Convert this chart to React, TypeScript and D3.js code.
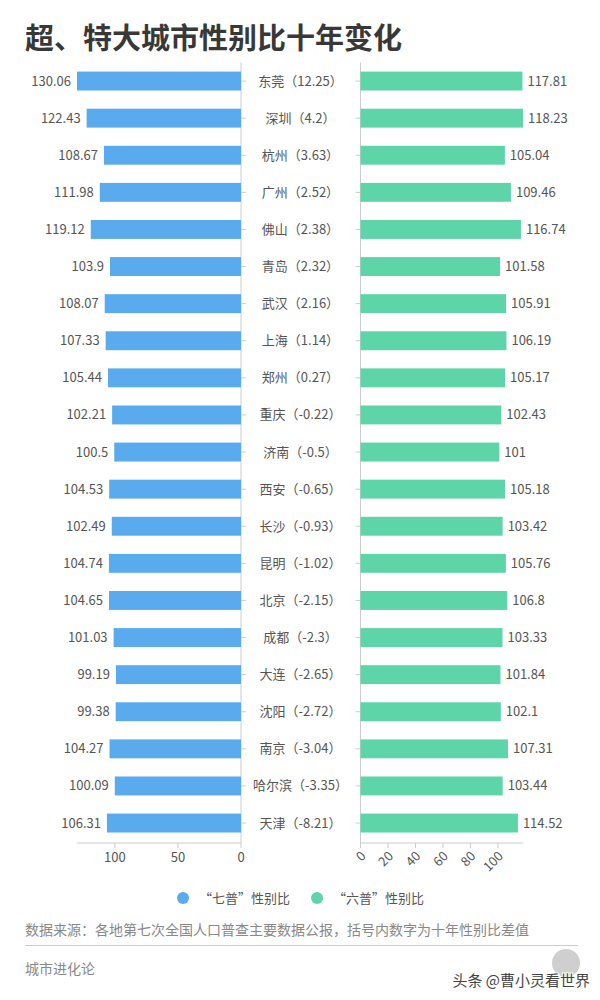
import React from "react";
import * as d3 from "d3";

const cities = ["东莞", "深圳", "杭州", "广州", "佛山", "青岛", "武汉", "上海", "郑州", "重庆", "济南", "西安", "长沙", "昆明", "北京", "成都", "大连", "沈阳", "南京", "哈尔滨", "天津"];
const diffs = ["12.25", "4.2", "3.63", "2.52", "2.38", "2.32", "2.16", "1.14", "0.27", "-0.22", "-0.5", "-0.65", "-0.93", "-1.02", "-2.15", "-2.3", "-2.65", "-2.72", "-3.04", "-3.35", "-8.21"];
const seventh = [130.06, 122.43, 108.67, 111.98, 119.12, 103.9, 108.07, 107.33, 105.44, 102.21, 100.5, 104.53, 102.49, 104.74, 104.65, 101.03, 99.19, 99.38, 104.27, 100.09, 106.31];
const sixth = [117.81, 118.23, 105.04, 109.46, 116.74, 101.58, 105.91, 106.19, 105.17, 102.43, 101, 105.18, 103.42, 105.76, 106.8, 103.33, 101.84, 102.1, 107.31, 103.44, 114.52];
const leftTicks = [0, 50, 100];
const rightTicks = [0, 20, 40, 60, 80, 100];

const FONT = "'Noto Sans CJK SC', 'Noto Sans', sans-serif";
const BLUE = "#5aaaee";
const GREEN = "#5dd5a9";
const AXIS = "#cccccc";

export default function App() {
  const y = d3.scaleBand<string>().domain(cities).range([62.5, 841.6]).paddingInner(0.49).paddingOuter(0.245);
  const xl = d3.scaleLinear().domain([0, 130.06]).range([241, 77]);
  const xr = d3.scaleLinear().domain([0, 118.23]).range([360.5, 523]);
  const bw = y.bandwidth();
  const axisY = 843;

  return (
    <svg width={600} height={1000} style={{ position: "absolute", left: 0, top: 0, background: "#fff" }} fontFamily={FONT}>
      <rect width={600} height={1000} fill="#fff" />
      <text x={25} y={49} fontSize={29} fontWeight="bold" fill="#383838">超、特大城市性别比十年变化</text>

      {/* left panel */}
      <line x1={241} x2={241} y1={62.5} y2={axisY} stroke={AXIS} />
      <line x1={xl(130.06)} x2={241} y1={axisY} y2={axisY} stroke={AXIS} />
      {leftTicks.map((t) => (
        <g key={"lt" + t}>
          <line x1={xl(t)} x2={xl(t)} y1={axisY} y2={axisY + 5} stroke={AXIS} />
          <text x={xl(t)} y={axisY + 19} fontSize={13} fill="#555" textAnchor="middle">{t}</text>
        </g>
      ))}
      {/* right panel */}
      <line x1={360.5} x2={360.5} y1={62.5} y2={axisY} stroke={AXIS} />
      <line x1={360.5} x2={xr(118.23)} y1={axisY} y2={axisY} stroke={AXIS} />
      {rightTicks.map((t) => (
        <g key={"rt" + t}>
          <line x1={xr(t)} x2={xr(t)} y1={axisY} y2={axisY + 5} stroke={AXIS} />
          <text x={xr(t) + 6} y={axisY + 14} fontSize={13} fill="#555" textAnchor="end" transform={`rotate(-45 ${xr(t) + 6} ${axisY + 14})`}>{t}</text>
        </g>
      ))}

      {cities.map((c, i) => {
        const yc = (y(c) as number) + bw / 2;
        return (
          <g key={c}>
            <line x1={241} x2={246} y1={yc} y2={yc} stroke={AXIS} />
            <line x1={355.5} x2={360.5} y1={yc} y2={yc} stroke={AXIS} />
            <rect x={xl(seventh[i])} y={y(c)} width={241 - xl(seventh[i])} height={bw} fill={BLUE} />
            <rect x={360.5} y={y(c)} width={xr(sixth[i]) - 360.5} height={bw} fill={GREEN} />
            <text x={xl(seventh[i]) - 6} y={yc + 4.5} fontSize={13} fill="#555" textAnchor="end">{seventh[i]}</text>
            <text x={xr(sixth[i]) + 5} y={yc + 4.5} fontSize={13} fill="#555">{sixth[i]}</text>
            <text x={300.5} y={yc + 4.5} fontSize={13} fill="#555" textAnchor="middle">{`${c}（${diffs[i]}）`}</text>
          </g>
        );
      })}

      {/* legend */}
      <circle cx={183} cy={898} r={6} fill={BLUE} />
      <text x={199} y={903} fontSize={13} fill="#555">“七普”性别比</text>
      <circle cx={317} cy={898} r={6} fill={GREEN} />
      <text x={333} y={903} fontSize={13} fill="#555">“六普”性别比</text>

      <text x={25} y={935} fontSize={14} fill="#888">数据来源：各地第七次全国人口普查主要数据公报，括号内数字为十年性别比差值</text>
      <line x1={25} x2={578} y1={945.5} y2={945.5} stroke="#ccc" />
      <text x={25} y={974} fontSize={14} fill="#888">城市进化论</text>

      {/* watermark */}
      <circle cx={566} cy={963} r={14} fill="#bbb" opacity={0.7} />
      <text x={590} y={986} fontSize={15} fill="#444" textAnchor="end" stroke="#fff" strokeWidth={2} paintOrder="stroke">头条 @曹小灵看世界</text>
    </svg>
  );
}
